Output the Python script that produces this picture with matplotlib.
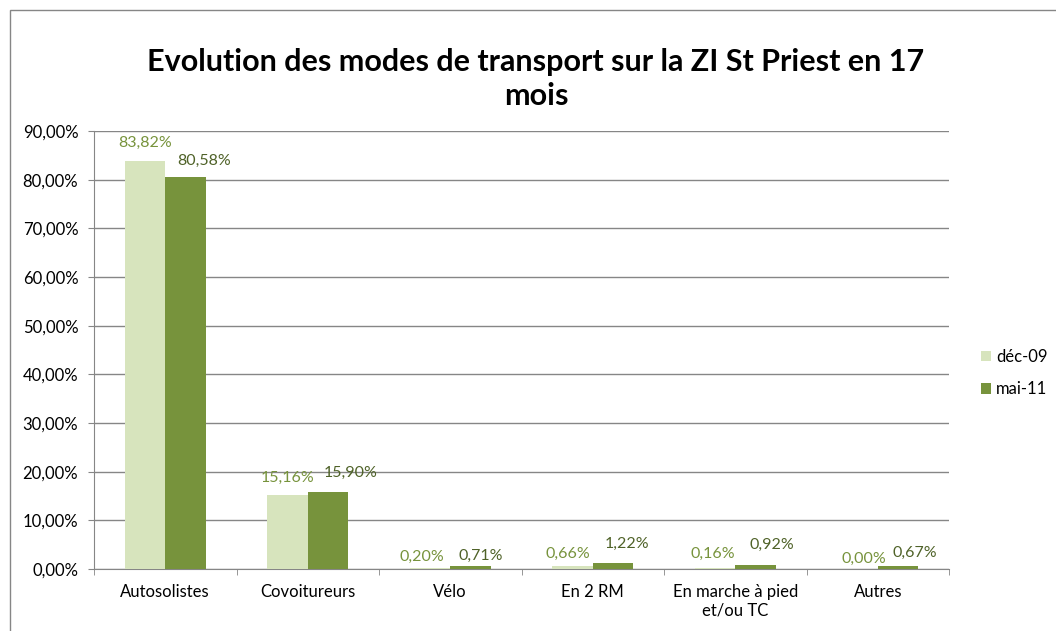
import matplotlib
matplotlib.use("Agg")
import matplotlib.pyplot as plt
import numpy as np
from matplotlib.patches import Rectangle
from matplotlib.ticker import FuncFormatter, MultipleLocator

categories = ["Autosolistes", "Covoitureurs", "Vélo", "En 2 RM", "En marche à pied\net/ou TC", "Autres"]
dec09 = [83.82, 15.16, 0.20, 0.66, 0.16, 0.00]
mai11 = [80.58, 15.90, 0.71, 1.22, 0.92, 0.67]
series_names = ["déc-09", "mai-11"]
title = "Evolution des modes de transport sur la ZI St Priest en 17\nmois"

# label nudges (pixels) mimicking the original's overlap avoidance
dec_dx = [0, 0, -8, -5, -2, 6]
dec_dy = [14, 13, 7, 8, 10, 6]
mai_dx = [19, 23, 10, 14, 16, 17]
mai_dy = [12, 15, 5.5, 15, 15.5, 9]

plt.rcParams['font.family'] = ['Lato', 'DejaVu Sans']

W, H = 1056, 631
fig = plt.figure(figsize=(W / 100, H / 100), dpi=100)
ax = fig.add_axes([94 / W, 1 - 569 / H, (949 - 94) / W, (569 - 131) / H])

c_light = "#D7E4BD"
c_dark = "#77933C"
lab_light = "#77933C"
lab_dark = "#4F6228"
grid_c = "#868686"

x = np.arange(len(categories))
bw = 1 / 3.5
ax.bar(x - bw / 2, dec09, bw, color=c_light, label=series_names[0], zorder=3)
ax.bar(x + bw / 2, mai11, bw, color=c_dark, label=series_names[1], zorder=3)

def fmt(v):
    return f"{v:.2f}".replace(".", ",") + "%"

px = 0.72  # points per pixel at 100 dpi
for xi, v, dx, dy in zip(x, dec09, dec_dx, dec_dy):
    ax.annotate(fmt(v), (xi - bw / 2, v), xytext=(dx * px, dy * px), textcoords="offset points",
                ha="center", va="baseline", color=lab_light, fontsize=11.5, zorder=4)
for xi, v, dx, dy in zip(x, mai11, mai_dx, mai_dy):
    ax.annotate(fmt(v), (xi + bw / 2, v), xytext=(dx * px, dy * px), textcoords="offset points",
                ha="center", va="baseline", color=lab_dark, fontsize=11.5, zorder=4)

ax.set_xlim(-0.5, len(categories) - 0.5)
ax.set_ylim(0, 90)
ax.yaxis.set_major_locator(MultipleLocator(10))
ax.yaxis.set_major_formatter(FuncFormatter(lambda v, p: f"{v:.2f}".replace(".", ",") + "%"))
ax.grid(axis="y", color=grid_c, linewidth=1, zorder=0)
ax.set_axisbelow(True)

ax.set_xticks(x)
ax.set_xticklabels(categories, fontsize=12, linespacing=1.15)
ax.tick_params(axis="x", length=0, pad=11)
ax.set_xticks(np.arange(-0.5, len(categories)), minor=True)
ax.tick_params(axis="x", which="minor", length=4.3, color=grid_c, direction="out")
ax.tick_params(axis="y", length=4.3, color=grid_c, labelsize=12, direction="out", pad=7)

for s in ["top", "right"]:
    ax.spines[s].set_visible(False)
for s in ["left", "bottom"]:
    ax.spines[s].set_color(grid_c)

fig.text(536 / W, 1 - 105 / H, title, ha="center", va="baseline", fontsize=22,
         fontweight="bold", linespacing=1.25, multialignment="center")

fig.legend(loc="center left", bbox_to_anchor=(981 / W, 1 - 373 / H), frameon=False,
           fontsize=12, handlelength=0.6, handleheight=0.6, handletextpad=0.3,
           labelspacing=1.0, borderpad=0, borderaxespad=0)

fig.patches.append(Rectangle((10 / W, -0.1), 1.2, 1 - 10 / H + 0.1, transform=fig.transFigure,
                             fill=False, edgecolor=grid_c, linewidth=1))

fig.savefig("out.png", dpi=100)
